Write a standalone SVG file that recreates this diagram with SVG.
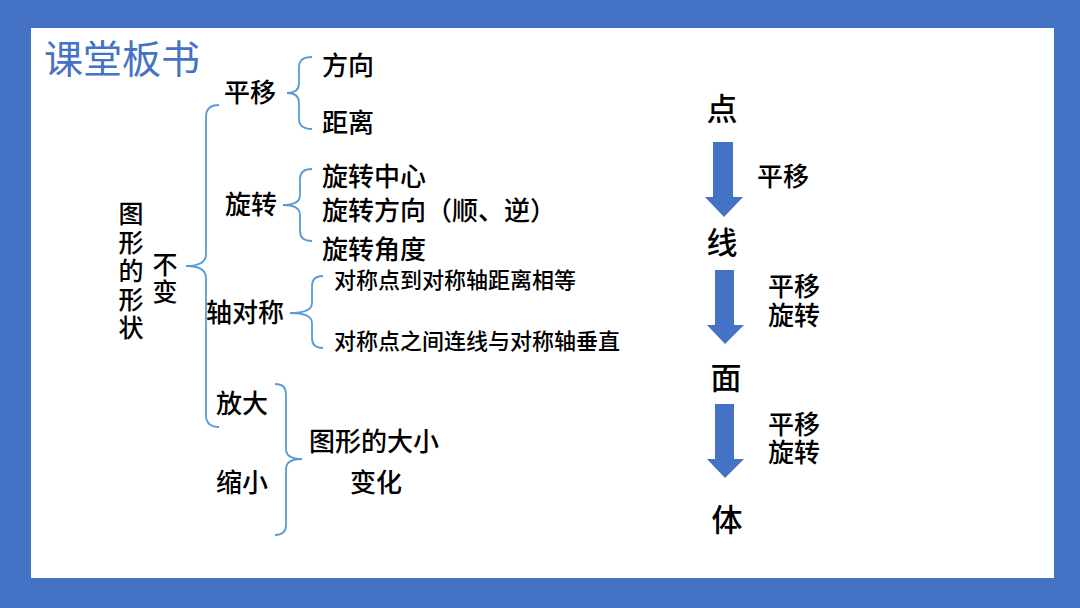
<svg xmlns="http://www.w3.org/2000/svg" width="1080" height="608" viewBox="0 0 1080 608">
<style>
.t{font-family:"Noto Sans CJK SC","Noto Sans",sans-serif;fill:#000;dominant-baseline:central;font-weight:500}
.m{font-size:26px}
.s{font-size:22px}
.b{font-size:31px}
.v{writing-mode:vertical-rl;font-size:25px}
.br{fill:none;stroke:#5B9BD5;stroke-width:1.8}
.ar{fill:#4472C4}
</style>
<rect x="0" y="0" width="1080" height="608" fill="#4472C4"/>
<rect x="31" y="28" width="1023" height="550" fill="#FFFFFF"/>
<text x="44" y="56" font-family="Noto Sans CJK SC,sans-serif" font-size="39" fill="#4472C4" dominant-baseline="central">课堂板书</text>

<g id="connectors">
<path class="br" d="M219,105 Q206,105 206,117 L206,254 Q206,266 186,266 Q206,266 206,278 L206,415 Q206,427 219,427"/>
<path class="br" d="M312,57 Q299,57 299,67 L299,83 Q299,93 287,93 Q299,93 299,103 L299,119 Q299,129 312,129"/>
<path class="br" d="M312,169 Q300,169 300,179 L300,195 Q300,205 283,205 Q300,205 300,215 L300,231 Q300,241 312,241"/>
<path class="br" d="M323,276 Q312,276 312,286 L312,303 Q312,313 290,313 Q312,313 312,323 L312,338 Q312,348 323,348"/>
<path class="br" d="M275,384 Q286,384 286,394 L286,449 Q286,459 302,459 Q286,459 286,469 L286,525 Q286,535 275,535"/>
<polygon class="ar" points="713,142 733,142 733,197 743,197 724,217 705,197 713,197"/>
<polygon class="ar" points="715,270 734,270 734,325 744,325 725,344 707,325 715,325"/>
<polygon class="ar" points="715,404 734,404 734,459 744,459 725,478 707,459 715,459"/>
</g>

<g id="root">
<text class="t v" x="131" y="201" letter-spacing="3.5">图形的形状</text>
<text class="t v" x="165" y="252" letter-spacing="2">不变</text>
</g>
<g id="n-pingyi"><text class="t m" x="224" y="90">平移</text></g>
<g id="n-fangxiang"><text class="t m" x="322" y="63">方向</text></g>
<g id="n-juli"><text class="t m" x="322" y="120">距离</text></g>
<g id="n-xuanzhuan"><text class="t m" x="225" y="202">旋转</text></g>
<g id="n-xz1"><text class="t m" x="322" y="174">旋转中心</text></g>
<g id="n-xz2"><text class="t m" x="322" y="208">旋转方向（顺、逆）</text></g>
<g id="n-xz3"><text class="t m" x="322" y="247">旋转角度</text></g>
<g id="n-zhouduicheng"><text class="t m" x="206" y="310">轴对称</text></g>
<g id="n-dc1"><text class="t s" x="334" y="278">对称点到对称轴距离相等</text></g>
<g id="n-dc2"><text class="t s" x="334" y="339">对称点之间连线与对称轴垂直</text></g>
<g id="n-fangda"><text class="t m" x="216" y="401">放大</text></g>
<g id="n-suoxiao"><text class="t m" x="216" y="480">缩小</text></g>
<g id="n-daxiao"><text class="t m" x="374" y="439" text-anchor="middle">图形的大小</text><text class="t m" x="376" y="480" text-anchor="middle">变化</text></g>

<g id="n-dian"><text class="t b" x="722" y="106" text-anchor="middle">点</text></g>
<g id="l1"><text class="t m" x="757" y="174">平移</text></g>
<g id="n-xian"><text class="t b" x="722" y="240" text-anchor="middle">线</text></g>
<g id="l2"><text class="t m" x="768" y="284">平移<tspan x="768" dy="29">旋转</tspan></text></g>
<g id="n-mian"><text class="t b" x="726" y="375" text-anchor="middle">面</text></g>
<g id="l3"><text class="t m" x="768" y="422">平移<tspan x="768" dy="28">旋转</tspan></text></g>
<g id="n-ti"><text class="t b" x="727" y="517" text-anchor="middle">体</text></g>
</svg>
